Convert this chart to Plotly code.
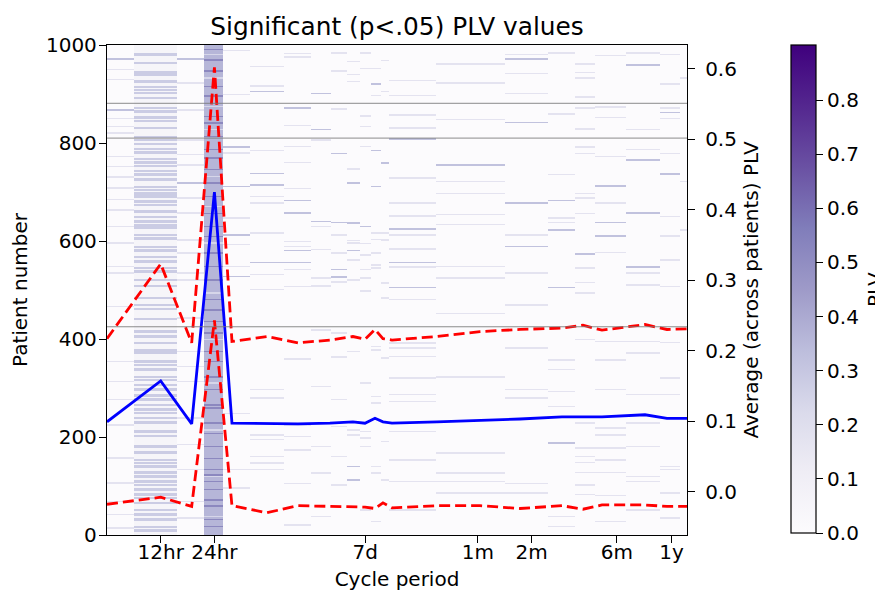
import numpy as np
import plotly.graph_objects as go

# ---------------- data ----------------
# heatmap column edges (cycle period, hours)
bin_edges_h = [6.0, 8.49, 14.79, 20.96, 26.79, 37.95, 58.85, 83.4, 107.9, 132.7, 157.0,
               180.9, 205.8, 228.2, 418.7, 1020, 1777, 2518, 3260, 4865, 7543, 9768, 10690]
n_patients = 1000

# axis ticks
tick_periods_h = [12, 24, 168, 720, 1440, 4320, 8760]
tick_labels = ["12hr", "24hr", "7d", "1m", "2m", "6m", "1y"]

# average-across-patients curves
line_period_h = [6.0, 12.0, 17.9, 24.0, 30.1, 47.3, 70.5, 106.6, 143.4, 167.5, 190.6, 211.3,
                 237.3, 424, 739, 1238, 2129, 2792, 3569, 6216, 8256, 10690]
mean_plv = [0.099, 0.157, 0.096, 0.425, 0.097, 0.096, 0.096, 0.097, 0.099, 0.097, 0.104, 0.099,
            0.097, 0.099, 0.101, 0.103, 0.106, 0.106, 0.106, 0.109, 0.104, 0.104]
upper_plv = [0.217, 0.323, 0.211, 0.602, 0.213, 0.220, 0.211, 0.215, 0.220, 0.216, 0.230, 0.217,
             0.215, 0.220, 0.227, 0.230, 0.232, 0.236, 0.229, 0.237, 0.230, 0.231]
lower_plv = [-0.018, -0.008, -0.021, 0.243, -0.020, -0.030, -0.020, -0.021, -0.022, -0.022, -0.024, -0.016,
             -0.023, -0.020, -0.020, -0.024, -0.020, -0.025, -0.019, -0.019, -0.021, -0.021]

# patients separating lines
separator_patients = [425, 810, 881]

# baseline PLV per heatmap column
column_base_plv = [0, 0.05, 0, 0.36, 0, 0, 0, 0, 0, 0, 0, 0, 0, 0, 0, 0, 0, 0, 0, 0, 0, 0]

# 12hr band: patients with significant PLV
c02_rows = [980, 963, 944, 939, 925, 914, 908, 901, 891, 871, 864, 852, 844, 830, 812, 806, 798,
            787, 780, 767, 760, 753, 742, 735, 725, 710, 704, 696, 690, 680, 673, 660, 648, 639,
            631, 626, 612, 605, 587, 580, 567, 558, 544, 537, 520, 508, 483, 469, 461, 440, 415,
            405, 391, 376, 371, 354, 347, 337, 322, 316, 306, 296, 284, 276, 265, 256, 248, 238,
            229, 211, 201, 180, 168, 153, 146, 139, 127, 119, 109, 102, 92, 82, 75, 65, 51, 41,
            31, 16, 9]
c02_level = 0.28
# 24hr band: stronger / weaker patients
c04_strong_rows = [990, 969, 946, 915, 895, 854, 840, 813, 786, 769, 745, 718, 690, 656, 629, 609,
                   575, 548, 520, 480, 459, 435, 412, 374, 354, 322, 296, 265, 259, 228, 207, 180,
                   156, 133, 122, 109, 92, 71, 59, 31, 17]
c04_weak_rows = [980, 932, 874, 827, 731, 670, 595, 493, 398, 310, 214, 119, 37]
c04_strong_level = 0.52
c04_weak_level = 0.24

# other columns: (strong rows, weak rows)
strong_level = 0.32
weak_level = 0.17
c01_strong = [971, 867]
c01_weak = [950, 929, 850, 833, 820, 772, 752, 730, 708, 684, 663, 629, 595, 548, 534, 466, 354,
            313, 276, 224, 157, 106, 68, 41, 14]
c03_strong = [971, 718]
c03_weak = [922, 867, 806, 776, 755, 687, 657, 602, 575, 534, 520, 442, 374, 343, 313, 238, 184,
            133, 68, 34]
c05_strong = [791, 711, 612, 527]
c05_weak = [988, 898, 779, 646, 592, 548, 248, 133, 95]
c06_strong = [905, 737, 714, 556]
c06_weak = [956, 916, 784, 690, 677, 616, 531, 500, 296, 279, 204, 194, 160, 146, 133]
c07_strong = [871, 682, 657, 580, 556]
c07_weak = [982, 975, 835, 792, 760, 707, 599, 541, 588, 507, 359, 224, 201, 173, 105, 20]
c08_strong = [900, 827, 639]
c08_weak = [806, 629, 524, 582, 508, 418, 303, 180, 126, 37]
c09_strong = [778, 637, 541, 526]
c09_weak = [983, 946, 869, 612, 516, 575, 412, 363, 276, 221, 160, 102]
c10_strong = [718, 636, 580, 139, 112]
c10_weak = [966, 939, 925, 746, 601, 561, 595, 520, 374, 214, 204]
c11_strong = [629]
c11_weak = [983, 952, 855, 833, 792, 594, 524, 571, 541, 497, 310, 211, 197, 180, 51]
c12_strong = [920, 784, 711]
c12_weak = [952, 896, 616, 603, 544, 575, 551, 384, 377, 282, 269, 139, 126, 27]
c13_strong = [759]
c13_weak = [968, 905, 616, 602, 514, 483, 361, 190, 112]
c14_strong = [808, 624, 556, 505]
c14_weak = [927, 896, 857, 830, 728, 677, 651, 612, 583, 546, 480, 391, 381, 364, 320, 286, 272,
            211, 153, 109, 51]
c15_strong = [755]
c15_weak = [961, 922, 848, 721, 696, 654, 633, 548, 524, 452, 322, 167, 126, 109, 85]
c16_strong = [971, 841, 677, 588]
c16_weak = [980, 941, 901, 612, 534, 469, 381, 296, 279, 105, 85]
c17_strong = [682, 622, 505, 187]
c17_weak = [983, 859, 735, 646, 637, 357, 337, 292, 262, 37, 17]
c18_strong = [573]
c18_weak = [961, 943, 932, 893, 871, 828, 791, 778, 696, 687, 656, 544, 515, 493, 398, 228, 177,
            160, 148, 127, 102, 82]
c19_strong = [712, 637, 610]
c19_weak = [978, 873, 852, 772, 677, 576, 394, 357, 296, 218, 204, 177, 153, 127, 80, 27]
c20_strong = [959, 765, 657, 546]
c20_weak = [983, 827, 786, 534, 510, 394, 371, 286, 228, 180, 119, 109, 51]
c21_strong = [862, 736]
c21_weak = [980, 920, 871, 850, 778, 650, 610, 561, 507, 392, 320, 286, 139, 133, 85, 34]
c22_strong = []
c22_weak = [932, 721, 622]

# ---------------- build matrix ----------------
n_cols = len(bin_edges_h) - 1
z = np.zeros((n_patients, n_cols))
for c in range(n_cols):
    z[:, c] = column_base_plv[c]


def put(col, rows, level, half=1):
    for r in rows:
        lo, hi = max(r - half, 0), min(r + half + 1, n_patients)
        z[lo:hi, col] = level


put(1, c02_rows, c02_level, half=2)
put(3, c04_weak_rows, c04_weak_level)
put(3, c04_strong_rows, c04_strong_level)
others = {0: (c01_strong, c01_weak), 2: (c03_strong, c03_weak), 4: (c05_strong, c05_weak),
          5: (c06_strong, c06_weak), 6: (c07_strong, c07_weak), 7: (c08_strong, c08_weak),
          8: (c09_strong, c09_weak), 9: (c10_strong, c10_weak), 10: (c11_strong, c11_weak),
          11: (c12_strong, c12_weak), 12: (c13_strong, c13_weak), 13: (c14_strong, c14_weak),
          14: (c15_strong, c15_weak), 15: (c16_strong, c16_weak), 16: (c17_strong, c17_weak),
          17: (c18_strong, c18_weak), 18: (c19_strong, c19_weak), 19: (c20_strong, c20_weak),
          20: (c21_strong, c21_weak), 21: (c22_strong, c22_weak)}
for col, (s_rows, w_rows) in others.items():
    put(col, w_rows, weak_level)
    put(col, s_rows, strong_level)

y_edges = np.arange(n_patients + 1)

FONT = "DejaVu Sans"
fig = go.Figure()
fig.add_trace(go.Heatmap(
    z=z, x=bin_edges_h, y=y_edges, colorscale="Purples", zmin=0, zmax=0.902,
    colorbar=dict(x=(791 - 107) / 580, xanchor="left", xpad=0, y=1, yanchor="top", ypad=0,
                  len=488, lenmode="pixels", thickness=25, thicknessmode="pixels",
                  outlinewidth=1.2, outlinecolor="black",
                  ticks="outside", ticklen=7, tickwidth=1.3, tickcolor="black",
                  tickprefix="\u00a0",
                  tickvals=[0, 0.1, 0.2, 0.3, 0.4, 0.5, 0.6, 0.7, 0.8], tickformat=".1f",
                  tickfont=dict(family=FONT, size=20, color="black")),
    hoverinfo="skip"))

fig.add_trace(go.Scatter(x=line_period_h, y=mean_plv, yaxis="y2", mode="lines",
                         line=dict(color="#0000ff", width=2.8), showlegend=False))
fig.add_trace(go.Scatter(x=line_period_h, y=upper_plv, yaxis="y2", mode="lines",
                         line=dict(color="#ff0000", width=2.8, dash="11px,5px"), showlegend=False))
fig.add_trace(go.Scatter(x=line_period_h, y=lower_plv, yaxis="y2", mode="lines",
                         line=dict(color="#ff0000", width=2.8, dash="11px,5px"), showlegend=False))

for p in separator_patients:
    fig.add_shape(type="line", xref="paper", x0=0, x1=1, yref="y", y0=p, y1=p,
                  line=dict(color="rgba(120,120,120,0.85)", width=1), layer="above")

axis_common = dict(ticks="outside", ticklen=7, tickwidth=1.3, tickcolor="black",
                   showline=True, linecolor="black", linewidth=1.3, showgrid=False,
                   zeroline=False, tickfont=dict(family=FONT, size=20, color="black"))

# the page shows the figure with an 8px body margin, so margins are shifted by 8px
fig.update_layout(
    width=883, height=597,
    margin=dict(l=99, r=204, t=37, b=70, autoexpand=False),
    paper_bgcolor="white", plot_bgcolor="white",
    font=dict(family=FONT, size=20, color="black"),
    title=dict(text="Significant (p<.05) PLV values", x=389 / 883, xanchor="center",
               y=1 - 18 / 597, yanchor="middle", font=dict(family=FONT, size=24.8, color="black")),
    xaxis=dict(type="log", range=[np.log10(line_period_h[0]), np.log10(line_period_h[-1])],
               tickvals=tick_periods_h, ticktext=tick_labels, mirror=True, ticklabelstandoff=-8,
               title=dict(text="Cycle period", standoff=8, font=dict(family=FONT, size=20)),
               **axis_common),
    yaxis=dict(range=[0, 1000], tickvals=[0, 200, 400, 600, 800, 1000], mirror=True,
               ticklabelstandoff=-2,
               title=dict(text="Patient number", standoff=14, font=dict(family=FONT, size=20)),
               **axis_common),
    yaxis2=dict(overlaying="y", side="right", range=[-0.0616, 0.6336],
                tickvals=[0, 0.1, 0.2, 0.3, 0.4, 0.5, 0.6], tickformat=".1f", ticklabelstandoff=6,
                title=dict(text="Average (across patients) PLV", standoff=8,
                           font=dict(family=FONT, size=20)),
                **axis_common),
    annotations=[dict(text="PLV", xref="paper", yref="paper", x=(875 - 107) / 580, y=0.5,
                      xanchor="center", yanchor="middle", textangle=-90, showarrow=False,
                      font=dict(family=FONT, size=20, color="black"))],
)

fig.write_html("out.html")
